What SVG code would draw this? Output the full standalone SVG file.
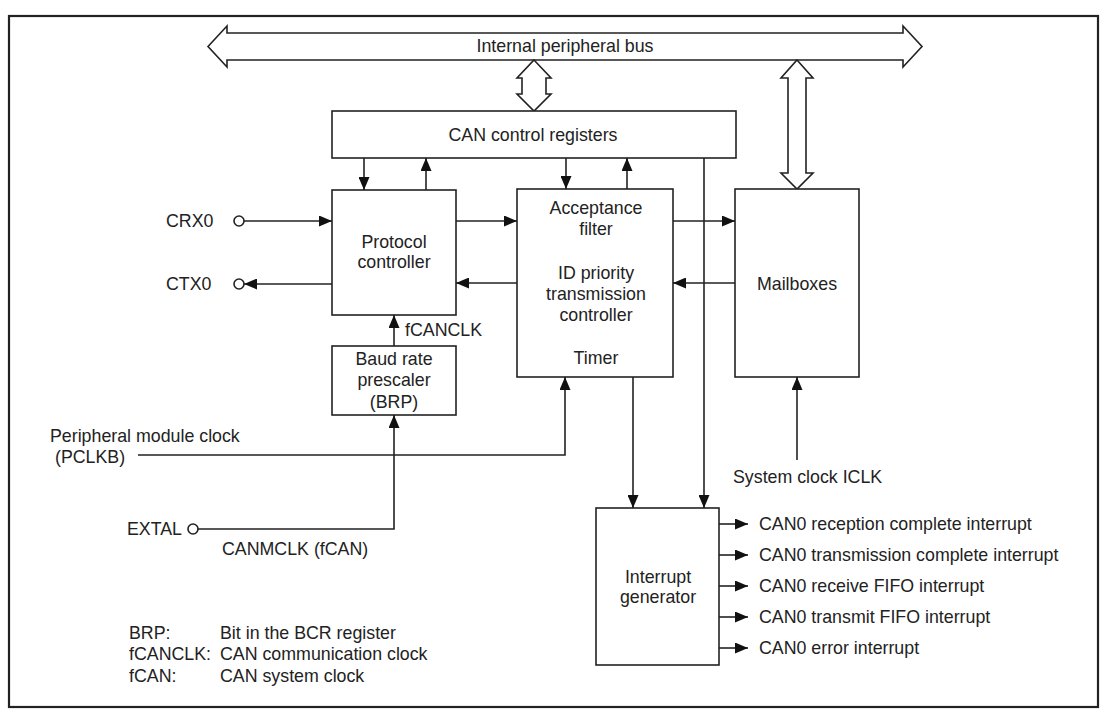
<svg xmlns="http://www.w3.org/2000/svg" width="1109" height="719" viewBox="0 0 1109 719">
<style>
  .box { fill: #fff; stroke: #222; stroke-width: 1.6; }
  .ln { fill: none; stroke: #222; stroke-width: 1.6; }
  .arr { fill: none; stroke: #222; stroke-width: 1.6; marker-end: url(#ah); }
  .bus { fill: #fff; stroke: #222; stroke-width: 1.6; stroke-linejoin: miter; }
  .pin { fill: #fff; stroke: #222; stroke-width: 1.6; }
  text { font-family: "Liberation Sans", Arial, sans-serif; font-size: 17.8px; fill: #222; }
  .c { text-anchor: middle; }
</style>
<defs>
  <marker id="ah" viewBox="0 0 13 11" refX="13" refY="5.5" markerWidth="13" markerHeight="11" markerUnits="userSpaceOnUse" orient="auto">
    <path d="M0,0 L13,5.5 L0,11 Z" fill="#111"/>
  </marker>
</defs>
<rect x="0" y="0" width="1109" height="719" fill="#fff"/>
<rect x="9" y="16" width="1089" height="691" fill="none" stroke="#222" stroke-width="2.2"/>

<g id="bus">
  <polygon class="bus" points="208,46.5 227,26 227,33 903,33 903,26 922,46.5 903,67 903,60 227,60 227,67"/>
  <text x="565" y="52" class="c">Internal peripheral bus</text>
</g>
<g id="bus-to-regs">
  <polygon class="bus" points="534,60 551,78 546,78 546,94 551,94 534,111 517,94 522,94 522,78 517,78"/>
</g>
<g id="bus-to-mailboxes">
  <polygon class="bus" points="797,60 813,78 806,78 806,173 813,173 797,189 781,173 788,173 788,78 781,78"/>
</g>

<g id="can-control-registers">
  <rect class="box" x="332" y="111" width="404" height="47"/>
  <text x="533" y="141" class="c">CAN control registers</text>
</g>
<g id="protocol-controller">
  <rect class="box" x="332" y="190" width="124" height="125"/>
  <text x="394" y="248" class="c">Protocol</text>
  <text x="394" y="268" class="c">controller</text>
</g>
<g id="acceptance-filter">
  <rect class="box" x="517" y="189" width="156" height="188"/>
  <text x="596" y="214" class="c">Acceptance</text>
  <text x="596" y="235" class="c">filter</text>
  <text x="596" y="279" class="c">ID priority</text>
  <text x="596" y="300" class="c">transmission</text>
  <text x="596" y="321" class="c">controller</text>
  <text x="596" y="364" class="c">Timer</text>
</g>
<g id="mailboxes">
  <rect class="box" x="735" y="189" width="124" height="188"/>
  <text x="797" y="290" class="c">Mailboxes</text>
</g>
<g id="baud-rate-prescaler">
  <rect class="box" x="332" y="346" width="124" height="69"/>
  <text x="394" y="365" class="c">Baud rate</text>
  <text x="394" y="386" class="c">prescaler</text>
  <text x="394" y="408" class="c">(BRP)</text>
</g>
<g id="interrupt-generator">
  <rect class="box" x="596" y="508" width="123" height="157"/>
  <text x="658" y="583" class="c">Interrupt</text>
  <text x="658" y="603" class="c">generator</text>
</g>

<g id="pins">
  <circle class="pin" cx="239" cy="221" r="5"/>
  <text x="166" y="227">CRX0</text>
  <circle class="pin" cx="239" cy="284" r="5"/>
  <text x="166" y="290">CTX0</text>
  <circle class="pin" cx="193" cy="529" r="5"/>
  <text x="182" y="535" text-anchor="end">EXTAL</text>
</g>

<g id="connectors">
  <line class="arr" x1="244" y1="221" x2="332" y2="221"/>
  <line class="arr" x1="332" y1="284" x2="244" y2="284"/>
  <line class="arr" x1="456" y1="221" x2="517" y2="221"/>
  <line class="arr" x1="517" y1="283" x2="456" y2="283"/>
  <line class="arr" x1="673" y1="221" x2="735" y2="221"/>
  <line class="arr" x1="735" y1="283" x2="673" y2="283"/>
  <line class="arr" x1="364" y1="158" x2="364" y2="190"/>
  <line class="arr" x1="426" y1="190" x2="426" y2="158"/>
  <line class="arr" x1="566" y1="158" x2="566" y2="189"/>
  <line class="arr" x1="627" y1="189" x2="627" y2="158"/>
  <line class="arr" x1="704" y1="158" x2="704" y2="508"/>
  <line class="arr" x1="633" y1="377" x2="633" y2="508"/>
  <line class="arr" x1="797" y1="460" x2="797" y2="377"/>
  <polyline class="arr" points="138,455 565,455 565,377"/>
  <polyline class="arr" points="198,529 394,529 394,415"/>
  <line class="arr" x1="394" y1="346" x2="394" y2="315"/>
  <line class="arr" x1="719" y1="524" x2="748" y2="524"/>
  <line class="arr" x1="719" y1="555" x2="748" y2="555"/>
  <line class="arr" x1="719" y1="586" x2="748" y2="586"/>
  <line class="arr" x1="719" y1="617" x2="748" y2="617"/>
  <line class="arr" x1="719" y1="648" x2="748" y2="648"/>
</g>

<g id="labels">
  <text x="405" y="336">fCANCLK</text>
  <text x="50" y="442">Peripheral module clock</text>
  <text x="55" y="463">(PCLKB)</text>
  <text x="222" y="555">CANMCLK (fCAN)</text>
  <text x="733" y="483">System clock ICLK</text>
  <text x="759" y="530">CAN0 reception complete interrupt</text>
  <text x="759" y="561">CAN0 transmission complete interrupt</text>
  <text x="759" y="592">CAN0 receive FIFO interrupt</text>
  <text x="759" y="623">CAN0 transmit FIFO interrupt</text>
  <text x="759" y="654">CAN0 error interrupt</text>
</g>

<g id="legend">
  <text x="129" y="639">BRP:</text>
  <text x="220" y="639">Bit in the BCR register</text>
  <text x="129" y="660">fCANCLK:</text>
  <text x="220" y="660">CAN communication clock</text>
  <text x="129" y="682">fCAN:</text>
  <text x="220" y="682">CAN system clock</text>
</g>
</svg>
